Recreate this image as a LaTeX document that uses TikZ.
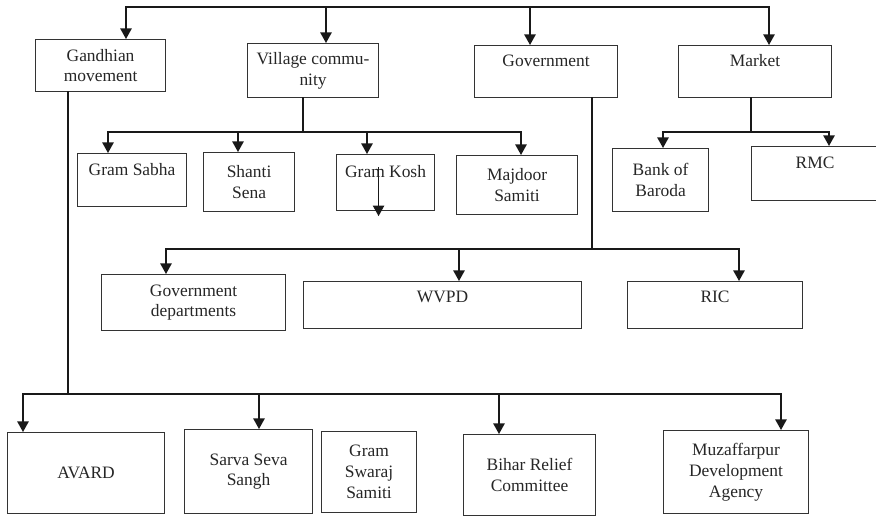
\documentclass[tikz,border=0pt]{standalone}
\usepackage{fontspec}
\setmainfont{Liberation Serif}
\usetikzlibrary{arrows.meta}

\tikzset{
    box/.style 2 args={draw=black!80, line width=0.8pt, anchor=north west, inner sep=2pt,
        align=center, text=black!85, font=\fontsize{12.4}{14.8}\selectfont,
        minimum width=#1*0.025cm, minimum height=#2*0.025cm},
    toptext/.style={text height=8pt, text depth=#1},
    toptext/.default=15pt,
    link/.style={line width=1.1pt, line cap=rect, black!90},
    arr/.style={link, -{Triangle[width=8pt,length=7.5pt]}}
}

\begin{document}
\begin{tikzpicture}[x=0.025cm, y=-0.025cm]
    \useasboundingbox (0,0) rectangle (876,516);
    %\draw[very thin,color=gray] (0,0) grid[step=50] (876,516);

    \node[box={130}{52}] (gandhi) at (35,39) {Gandhian\\movement};
    \node[box={131}{54}] (village) at (247,43) {Village commu-\\nity};
    \node[box={143}{52}, toptext] (gov) at (474,45) {Government};
    \node[box={153}{52}, toptext] (market) at (678,45) {Market};

    \node[box={109}{53}, toptext] (gsabha) at (77,153) {Gram Sabha};
    \node[box={91}{59}] (shanti) at (203,152) {Shanti\\Sena};
    \node[box={98}{56}, toptext] (gkosh) at (336,154) {Gram Kosh};
    \node[box={121}{59}] (majdoor) at (456,155) {Majdoor\\Samiti};
    \node[box={96}{63}] (bank) at (612,148) {Bank of\\Baroda};
    \node[box={127}{54}, toptext] (rmc) at (751,146) {RMC};

    \node[box={184}{56}] (gdept) at (101,274) {Government\\departments};
    \node[box={278}{47}, toptext=12pt] (wvpd) at (303,281) {WVPD};
    \node[box={175}{47}, toptext=12pt] (ric) at (627,281) {RIC};

    \node[box={157}{81}] (avard) at (7,432) {AVARD};
    \node[box={128}{84}] (sarva) at (184,429) {Sarva Seva\\Sangh};
    \node[box={95}{81}] (gswaraj) at (321,431) {Gram\\Swaraj\\Samiti};
    \node[box={132}{81}] (bihar) at (463,434) {Bihar Relief\\Committee};
    \node[box={145}{83}] (muzaff) at (663,430) {Muzaffarpur\\Development\\Agency};

    % top level
    \coordinate (t1) at (126,7);
    \coordinate (t2) at (326,7);
    \coordinate (t3) at (530,7);
    \coordinate (t4) at (769,7);
    \draw[link] (t1) -- (t4);
    \foreach \t/\n in {t1/gandhi,t2/village,t3/gov,t4/market}
        \draw[arr] (\t) -- (\t |- \n.north);

    % village community
    \coordinate (v0) at (303,132);
    \coordinate (v1) at (108,132);
    \coordinate (v2) at (238,132);
    \coordinate (v3) at (367,132);
    \coordinate (v4) at (521,132);
    \draw[link] (v0 |- village.south) -- (v0);
    \draw[link] (v1) -- (v4);
    \foreach \t/\n in {v1/gsabha,v2/shanti,v3/gkosh,v4/majdoor}
        \draw[arr] (\t) -- (\t |- \n.north);
    \draw[arr] ([shift={(-7,-15)}]gkosh.center) -- ([shift={(-7,5)}]gkosh.south);

    % market
    \coordinate (m0) at (751,132);
    \coordinate (m1) at (663,132);
    \coordinate (m2) at (829,132);
    \draw[link] (m0 |- market.south) -- (m0);
    \draw[link] (m1) -- (m2);
    \foreach \t/\n in {m1/bank,m2/rmc}
        \draw[arr] (\t) -- (\t |- \n.north);

    % government
    \coordinate (g0) at (592,249);
    \coordinate (g1) at (166,249);
    \coordinate (g2) at (459,249);
    \coordinate (g3) at (739,249);
    \draw[link] (g0 |- gov.south) -- (g0);
    \draw[link] (g1) -- (g3);
    \foreach \t/\n in {g1/gdept,g2/wvpd,g3/ric}
        \draw[arr] (\t) -- (\t |- \n.north);

    % gandhian movement
    \coordinate (h0) at (68,394);
    \coordinate (h1) at (23,394);
    \coordinate (h2) at (259,394);
    \coordinate (h3) at (499,394);
    \coordinate (h4) at (781,394);
    \draw[link] (h0 |- gandhi.south) -- (h0);
    \draw[link] (h1) -- (h4);
    \foreach \t/\n in {h1/avard,h2/sarva,h3/bihar,h4/muzaff}
        \draw[arr] (\t) -- (\t |- \n.north);

\end{tikzpicture}
\end{document}
